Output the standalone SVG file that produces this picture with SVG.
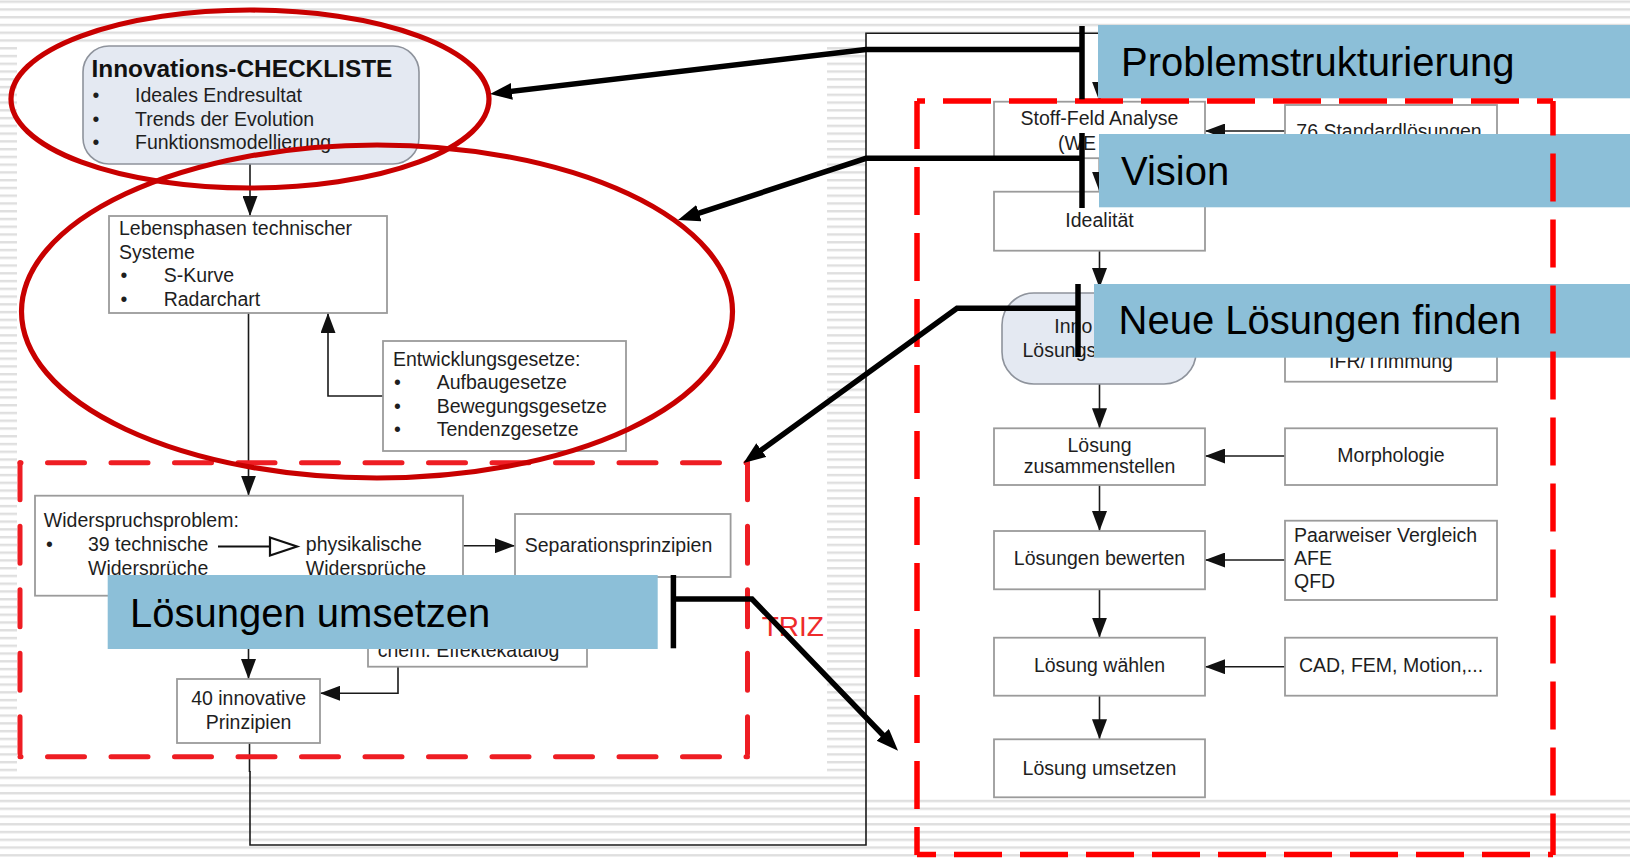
<svg xmlns="http://www.w3.org/2000/svg" width="1630" height="858" viewBox="0 0 1630 858">
<defs>
<pattern id="stripes" patternUnits="userSpaceOnUse" x="0" y="0.5" width="20" height="7.76">
<rect width="20" height="7.76" fill="#ffffff"/>
<rect width="20" height="2.4" fill="#dfdfdf"/>
</pattern>
<marker id="ah" markerUnits="userSpaceOnUse" markerWidth="20" markerHeight="15" refX="20" refY="7.5" orient="auto">
<path d="M0,0 L20,7.5 L0,15 z" fill="#111"/>
</marker>
<marker id="big" markerUnits="userSpaceOnUse" markerWidth="24" markerHeight="18" refX="12" refY="8.5" orient="auto">
<path d="M0,0 L22,8.5 L0,17 z" fill="#000"/>
</marker>
<style>
.box{fill:#fff;stroke:#9b9b9b;stroke-width:1.8}
.rbox{fill:#e4e9f2;stroke:#8e939c;stroke-width:1.6}
.t{font-family:"Liberation Sans",Arial,sans-serif;font-size:19.5px;fill:#1e1e1e}
.c{text-anchor:middle}
.b{font-weight:bold;font-size:24.4px;fill:#111}
.lab{fill:#8cbfd8}
.lt{font-family:"Liberation Sans",Arial,sans-serif;font-size:40px;fill:#000}
.con{fill:none;stroke:#1a1a1a;stroke-width:1.6}
.call{fill:none;stroke:#000;stroke-width:5.5;stroke-linejoin:miter}
.ell{fill:none;stroke:#c80000;stroke-width:5.2}
.dashR{fill:none;stroke:#ff0000;stroke-width:5.5;stroke-dasharray:48 18}
.dashL{fill:none;stroke:#ee1d23;stroke-width:5;stroke-dasharray:37 26.5;stroke-linecap:round}
.triz{font-family:"Liberation Sans",Arial,sans-serif;font-size:28px;fill:#ee2b2b}
</style>
</defs>

<g id="background">
<rect width="1630" height="858" fill="url(#stripes)"/>
<rect x="17" y="45" width="810" height="727" fill="#fff"/>
<rect x="866" y="34" width="764" height="765" fill="#fff"/>
</g>

<g id="connectors">
<path class="con" d="M250,164 V216" marker-end="url(#ah)"/>
<path class="con" d="M248.5,313 V495.7" marker-end="url(#ah)"/>
<path class="con" d="M383,396 H328 V313" marker-end="url(#ah)"/>
<path class="con" d="M463,545.7 H515" stroke="#777" marker-end="url(#ah)"/>
<path class="con" d="M248.5,595.7 V679" marker-end="url(#ah)"/>
<path class="con" d="M398,666.7 V693.3 H320" marker-end="url(#ah)"/>
<path class="con" d="M249.5,743 V772" stroke="#777"/>
<path class="con" d="M250,771 V845 H866 V33.3 H1099.5 V101.7" stroke="#111" stroke-width="1.9" marker-end="url(#ah)"/>
<path class="con" d="M1099.5,158 V191.7" marker-end="url(#ah)"/>
<path class="con" d="M1285,131 H1205" marker-end="url(#ah)"/>
<path class="con" d="M1099.5,250.7 V288" marker-end="url(#ah)"/>
<path class="con" d="M1099.5,384 V428.3" marker-end="url(#ah)"/>
<path class="con" d="M1285,456 H1205" marker-end="url(#ah)"/>
<path class="con" d="M1099.5,485 V531" marker-end="url(#ah)"/>
<path class="con" d="M1285,560 H1205" marker-end="url(#ah)"/>
<path class="con" d="M1099.5,589.3 V637.7" marker-end="url(#ah)"/>
<path class="con" d="M1285,666.7 H1205" marker-end="url(#ah)"/>
<path class="con" d="M1099.5,695.7 V739.3" marker-end="url(#ah)"/>
</g>

<g id="checkliste">
<rect class="rbox" x="83" y="46" width="336" height="118" rx="26"/>
<text class="t b" x="91.5" y="76.5">Innovations-CHECKLISTE</text>
<text class="t" x="92.5" y="101.5">•</text>
<text class="t" x="135" y="101.5">Ideales Endresultat</text>
<text class="t" x="92.5" y="125.5">•</text>
<text class="t" x="135" y="125.5">Trends der Evolution</text>
<text class="t" x="92.5" y="149">•</text>
<text class="t" x="135" y="149">Funktionsmodellierung</text>
</g>

<g id="lebensphasen">
<rect class="box" x="109" y="216" width="278" height="97"/>
<text class="t" x="119" y="235">Lebensphasen technischer</text>
<text class="t" x="119" y="258.5">Systeme</text>
<text class="t" x="120.5" y="282">•</text>
<text class="t" x="163.7" y="282">S-Kurve</text>
<text class="t" x="120.5" y="305.5">•</text>
<text class="t" x="163.7" y="305.5">Radarchart</text>
</g>

<g id="entwicklungsgesetze">
<rect class="box" x="383" y="341" width="243" height="110"/>
<text class="t" x="393" y="365.7">Entwicklungsgesetze:</text>
<text class="t" x="394" y="389">•</text>
<text class="t" x="436.7" y="389">Aufbaugesetze</text>
<text class="t" x="394" y="412.7">•</text>
<text class="t" x="436.7" y="412.7">Bewegungsgesetze</text>
<text class="t" x="394" y="436">•</text>
<text class="t" x="436.7" y="436">Tendenzgesetze</text>
</g>

<g id="widerspruchsproblem">
<rect class="box" x="35" y="495.7" width="428" height="100"/>
<text class="t" x="43.8" y="526.7">Widerspruchsproblem:</text>
<text class="t" x="46" y="550.7">•</text>
<text class="t" x="88" y="550.7">39 technische</text>
<text class="t" x="88" y="574.7">Widersprüche</text>
<path d="M218,546.5 H270" stroke="#111" stroke-width="2.2" fill="none"/>
<path d="M270,537.5 L297,546.5 L270,555.5 z" fill="#fff" stroke="#111" stroke-width="2.2"/>
<text class="t" x="305.8" y="550.7">physikalische</text>
<text class="t" x="305.8" y="574.7">Widersprüche</text>
</g>

<g id="separationsprinzipien">
<rect class="box" x="515" y="514" width="215.6" height="63"/>
<text class="t" x="524.7" y="551.7">Separationsprinzipien</text>
</g>

<g id="effektekatalog">
<rect class="box" x="368" y="608" width="219" height="58.7"/>
<text class="t" x="377.7" y="656.7">chem. Effektekatalog</text>
</g>

<g id="prinzipien">
<rect class="box" x="177" y="679" width="143" height="64"/>
<text class="t c" x="248.6" y="705">40 innovative</text>
<text class="t c" x="248.6" y="728.5">Prinzipien</text>
</g>

<g id="stoff-feld">
<rect class="box" x="994" y="101.7" width="211" height="56.5"/>
<text class="t c" x="1099.5" y="125">Stoff-Feld Analyse</text>
<text class="t" x="1058" y="149.5">(WE</text>
</g>

<g id="standardloesungen">
<rect class="box" x="1285" y="105" width="212" height="56"/>
<text class="t c" x="1389" y="137.5">76 Standardlösungen</text>
</g>

<g id="idealitaet">
<rect class="box" x="994" y="191.7" width="211" height="59"/>
<text class="t c" x="1099.5" y="226.7">Idealität</text>
</g>

<g id="innovative-loesungskonzepte">
<rect class="rbox" x="1002" y="293" width="194" height="91" rx="32"/>
<text class="t" x="1054.3" y="333">Inno</text>
<text class="t" x="1022.5" y="356.7">Lösungs</text>
</g>

<g id="ifr-trimmung">
<rect class="box" x="1285" y="324" width="212" height="57.7"/>
<text class="t c" x="1391" y="368.3">IFR/Trimmung</text>
</g>

<g id="loesung-zusammenstellen">
<rect class="box" x="994" y="428.3" width="211" height="56.7"/>
<text class="t c" x="1099.5" y="451.7">Lösung</text>
<text class="t c" x="1099.5" y="473.3">zusammenstellen</text>
</g>

<g id="morphologie">
<rect class="box" x="1285" y="428.3" width="212" height="56.7"/>
<text class="t c" x="1391" y="461.7">Morphologie</text>
</g>

<g id="loesungen-bewerten">
<rect class="box" x="994" y="531" width="211" height="58.3"/>
<text class="t c" x="1099.5" y="565">Lösungen bewerten</text>
</g>

<g id="paarweiser-vergleich">
<rect class="box" x="1285" y="520.7" width="212" height="79.3"/>
<text class="t" x="1294" y="541.7">Paarweiser Vergleich</text>
<text class="t" x="1294" y="565">AFE</text>
<text class="t" x="1294" y="588.3">QFD</text>
</g>

<g id="loesung-waehlen">
<rect class="box" x="994" y="637.7" width="211" height="58"/>
<text class="t c" x="1099.5" y="672.3">Lösung wählen</text>
</g>

<g id="cad-fem">
<rect class="box" x="1285" y="637.7" width="212" height="58"/>
<text class="t c" x="1391" y="672.3">CAD, FEM, Motion,...</text>
</g>

<g id="loesung-umsetzen">
<rect class="box" x="994" y="739.3" width="211" height="58"/>
<text class="t c" x="1099.5" y="775">Lösung umsetzen</text>
</g>

<g id="triz-frame">
<path class="dashL" d="M20,462.7 H747.5" stroke-dashoffset="36"/>
<path class="dashL" d="M20,756.7 H747.5" stroke-dashoffset="36"/>
<path class="dashL" d="M20,462.7 V756.7"/>
<path class="dashL" d="M747.5,462.7 V756.7"/>
<text class="triz" x="761.7" y="636">TRIZ</text>
</g>

<g id="highlight-ellipses">
<ellipse class="ell" cx="250" cy="99" rx="239" ry="89"/>
<ellipse class="ell" cx="377" cy="311.5" rx="355.5" ry="166.5"/>
</g>

<g id="label-problemstrukturierung">
<rect class="lab" x="1098" y="25" width="532" height="73.3"/>
<text class="lt" x="1121" y="76">Problemstrukturierung</text>
</g>
<g id="label-vision">
<rect class="lab" x="1099" y="134" width="531" height="73.3"/>
<text class="lt" x="1121" y="185">Vision</text>
</g>
<g id="label-neue-loesungen">
<rect class="lab" x="1094" y="284" width="536" height="73.7"/>
<text class="lt" x="1118.6" y="334">Neue Lösungen finden</text>
</g>
<g id="label-loesungen-umsetzen">
<rect class="lab" x="107.7" y="575" width="550" height="74"/>
<text class="lt" x="130" y="626.5">Lösungen umsetzen</text>
</g>

<g id="process-frame">
<path class="dashR" d="M917,101 H1553" stroke-dashoffset="40"/>
<path class="dashR" d="M1553,101 V855" stroke-dashoffset="13.5"/>
<path class="dashR" d="M917,854.5 H1553" stroke-dashoffset="29"/>
<path class="dashR" d="M917,101 V855"/>
</g>

<g id="callouts">
<path class="call" d="M1082,26 V99.3"/>
<path class="call" d="M1082,49.5 H866 L499.9,92.8" marker-end="url(#big)"/>
<path class="call" d="M1082,133 V208"/>
<path class="call" d="M1082,158.3 H866 L687.5,216.9" marker-end="url(#big)"/>
<path class="call" d="M1078,284 V357"/>
<path class="call" d="M1078,308.3 H957 L751.6,457.1" marker-end="url(#big)"/>
<path class="call" d="M673.4,575 V648.3"/>
<path class="call" d="M673.4,599 H752 L891.1,743.5" marker-end="url(#big)"/>
</g>
</svg>
